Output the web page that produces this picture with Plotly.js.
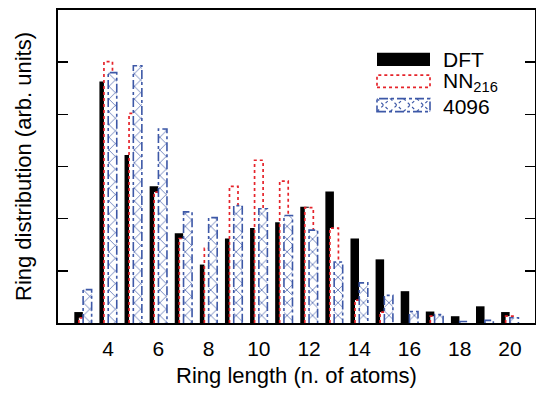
<!DOCTYPE html>
<html>
<head>
<meta charset="utf-8">
<script src="https://cdn.plot.ly/plotly-3.0.1.min.js"></script>
<style>html,body{margin:0;padding:0;background:#fff;}#chart{width:536px;height:394px;}</style>
</head>
<body>
<div id="chart"></div>
<script>
// Ring lengths (number of atoms)
const ringLength = [3,4,5,6,7,8,9,10,11,12,13,14,15,16,17,18,19,20];
// Ring distributions (arb. units)
const dft   = [0.21,4.63,3.22,2.62,1.72,1.12,1.62,1.82,1.93,2.23,2.52,1.62,1.22,0.61,0.22,0.13,0.32,0.21];
const nn216 = [0.10,5.01,4.02,2.51,1.62,1.43,2.62,3.12,2.72,2.21,1.82,0.44,0.21,0.00,0.13,0.00,0.00,0.13];
const n4096 = [0.64,4.80,4.93,3.72,2.13,2.02,2.25,2.19,2.06,1.78,1.17,0.77,0.53,0.22,0.16,0.03,0.05,0.10];
const xTickVals = [4,6,8,10,12,14,16,18,20];
const xTickText = ['4','6','8','10','12','14','16','18','20'];

const W = 0.34, offD = -0.35, offN = -0.17, offB = 0.0;
const RED = '#e5242b', BLUE = '#3d58a7';
const FONT = 'Liberation Sans, Arial, Helvetica, sans-serif';

// dotted outline of NN216 bars (only the parts not hidden by 4096 bars)
const rx = [], ry = [];
ringLength.forEach((c, i) => {
  const r = nn216[i], b = n4096[i];
  if (r <= 0) return;
  const l = c + offN, rr = l + W, bl = c + offB;
  if (r > b) { rx.push(l, l, rr, rr, null); ry.push(0, r, r, b, null); }
  else { rx.push(l, l, bl, null); ry.push(0, r, r, null); }
});
// dash-dot outline of 4096 bars
const bx = [], by = [];
ringLength.forEach((c, i) => {
  const b = n4096[i];
  if (b <= 0) return;
  const l = c + offB, rr = l + W;
  bx.push(l, l, rr, rr, null); by.push(0, b, b, 0, null);
});

const traces = [
  {type:'bar', name:'DFT', x:ringLength, y:dft, width:W, offset:offD,
   marker:{color:'#000', line:{width:0}}, hoverinfo:'skip'},
  {type:'bar', name:'NN216', x:ringLength, y:nn216, width:W, offset:offN,
   marker:{color:'#fff', line:{width:0}}, hoverinfo:'skip'},
  {type:'bar', name:'4096', x:ringLength, y:n4096, width:W, offset:offB,
   marker:{color:'#fff', line:{width:0},
     pattern:{shape:'x', fgcolor:BLUE, bgcolor:'#fff', size:9, solidity:0.15, fillmode:'replace'}},
   hoverinfo:'skip'},
  {type:'scatter', mode:'lines', x:rx, y:ry, line:{color:RED, width:1.7, dash:'dot'},
   hoverinfo:'skip', connectgaps:false},
  {type:'scatter', mode:'lines', x:bx, y:by, line:{color:BLUE, width:1.6, dash:'dashdot'},
   hoverinfo:'skip', connectgaps:false}
];

// legend geometry (paper coords)
const L = 58, R = 535, T = 10, B = 322.7;
const px = v => (v - L) / (R - L);
const py = v => (B - v) / (B - T);
const lx0 = px(377), lx1 = px(430);
let crossPath = '';
{
  const y0 = py(111.5), y1 = py(98.5);
  const n = 4; const step = (lx1 - lx0) / n;
  for (let k = 0; k < n; k++) {
    const a = lx0 + k*step, b2 = a + step;
    crossPath += `M${a},${y0}L${b2},${y1}M${a},${y1}L${b2},${y0}`;
  }
}
const shapes = [
  {type:'rect', xref:'paper', yref:'paper', x0:lx0, x1:lx1, y0:py(66), y1:py(52.7),
   fillcolor:'#000', line:{width:0}},
  {type:'rect', xref:'paper', yref:'paper', x0:lx0, x1:lx1, y0:py(87.3), y1:py(75),
   fillcolor:'#fff', line:{color:RED, width:1.7, dash:'dot'}},
  {type:'path', xref:'paper', yref:'paper', path:crossPath,
   line:{color:BLUE, width:1.2, dash:'dot'}},
  {type:'rect', xref:'paper', yref:'paper', x0:lx0, x1:lx1, y0:py(111.5), y1:py(98.5),
   fillcolor:'rgba(0,0,0,0)', line:{color:BLUE, width:1.6, dash:'dashdot'}}
];
const annFont = {family:FONT, size:21, color:'#000'};
const annotations = [
  {xref:'paper', yref:'paper', x:px(442), y:py(59), xanchor:'left', yanchor:'middle',
   text:'DFT', showarrow:false, font:annFont, borderpad:0},
  {xref:'paper', yref:'paper', x:px(442), y:py(81.5), xanchor:'left', yanchor:'middle',
   text:'NN<sub>216</sub>', showarrow:false, font:annFont, borderpad:0},
  {xref:'paper', yref:'paper', x:px(442), y:py(106.5), xanchor:'left', yanchor:'middle',
   text:'4096', showarrow:false, font:annFont, borderpad:0}
];

const layout = {
  width:536, height:394,
  margin:{l:58, r:1, t:10, b:71.3, pad:0},
  paper_bgcolor:'#fff', plot_bgcolor:'#fff',
  barmode:'overlay', showlegend:false,
  font:{family:FONT, size:21, color:'#000'},
  xaxis:{range:[2,21], showline:true, linecolor:'#000', linewidth:2, mirror:true,
    ticks:'', tickvals:xTickVals, ticktext:xTickText, tickfont:{family:FONT, size:21},
    ticklabelstandoff:6,
    showgrid:false, zeroline:false, automargin:false,
    title:{text:'Ring length (n. of atoms)', font:{family:FONT, size:22}, standoff:8}},
  yaxis:{range:[0,6], showline:true, linecolor:'#000', linewidth:2, mirror:'ticks',
    ticks:'inside', ticklen:10, tickwidth:1.5, tickcolor:'#000', dtick:1, tick0:0,
    showticklabels:false, showgrid:false, zeroline:false, automargin:false,
    title:{text:'Ring distribution (arb. units)', font:{family:FONT, size:22}, standoff:18}},
  shapes:shapes, annotations:annotations
};

Plotly.newPlot('chart', traces, layout, {displayModeBar:false, staticPlot:true});
</script>
</body>
</html>
